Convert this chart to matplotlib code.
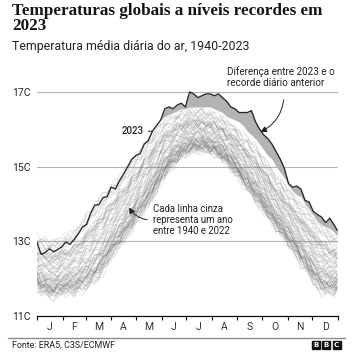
import matplotlib
matplotlib.use("Agg")
import matplotlib.pyplot as plt
from matplotlib.patches import Rectangle
import numpy as np

W, H = 363, 356

# dia do ano (a cada 5 dias)
days = list(range(0, 361, 5)) + [364]

# 2023
t2023 = [12.97, 12.65, 12.70, 12.80, 12.72, 12.78, 12.85, 12.98, 12.92, 13.05,
         13.20, 13.38, 13.45, 13.75, 13.97, 13.98, 14.17, 14.20, 14.45, 14.40,
         14.62, 14.80, 15.00, 15.20, 15.30, 15.35, 15.60, 15.70, 15.95, 16.10,
         16.25, 16.55, 16.60, 16.55, 16.65, 16.70, 16.60, 17.00, 16.95, 16.85,
         16.90, 16.95, 16.95, 16.90, 16.95, 16.85, 16.75, 16.60, 16.55, 16.45,
         16.45, 16.45, 16.50, 16.20, 16.00, 15.85, 15.75, 15.60, 15.40, 15.20,
         14.95, 14.55, 14.45, 14.48, 14.40, 14.10, 14.05, 13.80, 13.72, 13.65,
         13.50, 13.62, 13.45, 13.30]

# recorde diario anterior (a partir de junho)
rec_start = 30
record = [16.25, 16.35, 16.40, 16.45, 16.50, 16.55, 16.55, 16.60, 16.60, 16.60,
          16.60, 16.60, 16.60, 16.55, 16.50, 16.45, 16.35, 16.30, 16.25, 16.20,
          16.10, 15.95, 15.85, 15.75, 15.60, 15.45, 15.30, 15.20, 15.00, 14.85,
          14.70, 14.50, 14.35, 14.25, 14.20, 14.00, 13.85, 13.70, 13.55, 13.45,
          13.40, 13.35, 13.25, 13.15]

# faixa das linhas cinza 1940-2022: limite inferior / superior
low = [11.65, 11.55, 11.50, 11.45, 11.42, 11.45, 11.50, 11.52, 11.52, 11.52,
       11.55, 11.60, 11.65, 11.70, 11.80, 11.90, 12.05, 12.25, 12.45, 12.60,
       12.75, 12.90, 13.05, 13.20, 13.40, 13.55, 13.70, 13.85, 14.05, 14.25,
       14.45, 14.65, 14.80, 14.95, 15.05, 15.15, 15.25, 15.30, 15.35, 15.35,
       15.35, 15.35, 15.30, 15.25, 15.20, 15.10, 15.00, 14.90, 14.75, 14.60,
       14.45, 14.30, 14.15, 14.00, 13.85, 13.70, 13.55, 13.40, 13.25, 13.10,
       12.95, 12.80, 12.65, 12.50, 12.30, 12.15, 12.00, 11.80, 11.65, 11.55,
       11.50, 11.50, 11.52, 11.55]
high = [13.15, 13.10, 13.10, 13.05, 13.05, 13.10, 13.15, 13.20, 13.25, 13.30,
        13.45, 13.60, 13.75, 13.90, 14.05, 14.20, 14.30, 14.45, 14.55, 14.65,
        14.80, 14.90, 15.05, 15.20, 15.35, 15.50, 15.65, 15.80, 15.95, 16.10,
        16.20, 16.30, 16.35, 16.40, 16.45, 16.50, 16.50, 16.55, 16.55, 16.55,
        16.55, 16.50, 16.50, 16.45, 16.40, 16.35, 16.25, 16.20, 16.10, 16.00,
        15.90, 15.80, 15.70, 15.60, 15.45, 15.30, 15.10, 14.95, 14.80, 14.70,
        14.55, 14.45, 14.30, 14.20, 14.05, 13.95, 13.85, 13.70, 13.60, 13.50,
        13.40, 13.30, 13.20, 13.15]
# variacao diaria aproximada
wiggle = [0.05, -0.08, 0.10, -0.02, 0.07, -0.11, 0.03, 0.09, -0.06, 0.00,
          0.12, -0.04, -0.10, 0.06, 0.02, -0.07, 0.11, -0.03, 0.04, -0.09,
          0.08, -0.01, -0.12, 0.05, 0.10, -0.05, 0.01, -0.08, 0.09, 0.03,
          -0.06, 0.12, -0.10, 0.02, 0.07, -0.04, -0.09, 0.11, 0.00, -0.03,
          0.06, -0.11, 0.08, 0.04, -0.07, 0.10, -0.02, -0.06, 0.09, 0.01,
          -0.10, 0.05, 0.12, -0.08, 0.03, -0.05, 0.07, -0.12, 0.02, 0.10,
          -0.04, 0.06, -0.09, 0.00, 0.11, -0.07, 0.04, -0.01, 0.08, -0.10,
          0.03, 0.09, -0.05, 0.02]

years = list(range(1940, 2023))
# posicao relativa de cada ano dentro da faixa (0 = mais frio, 1 = mais quente)
year_level = [0.30, 0.32, 0.28, 0.30, 0.33, 0.28, 0.20, 0.20, 0.20, 0.17,
              0.08, 0.15, 0.18, 0.22, 0.10, 0.07, 0.03, 0.17, 0.22, 0.18,
              0.15, 0.20, 0.18, 0.20, 0.05, 0.08, 0.13, 0.14, 0.12, 0.20,
              0.20, 0.12, 0.20, 0.28, 0.12, 0.15, 0.08, 0.27, 0.25, 0.32,
              0.36, 0.40, 0.30, 0.42, 0.33, 0.33, 0.36, 0.47, 0.50, 0.43,
              0.54, 0.50, 0.40, 0.43, 0.50, 0.57, 0.50, 0.60, 0.72, 0.57,
              0.57, 0.64, 0.68, 0.68, 0.65, 0.72, 0.68, 0.68, 0.62, 0.72,
              0.76, 0.68, 0.72, 0.73, 0.76, 0.86, 0.97, 0.92, 0.86, 0.93,
              0.96, 0.86, 0.86]

month_edges = [0, 31, 59, 90, 120, 151, 181, 212, 243, 273, 304, 334, 365]
month_labels = ["J", "F", "M", "A", "M", "J", "J", "A", "S", "O", "N", "D"]
yticks = [11, 13, 15, 17]
ylabels = ["11C", "13C", "15C", "17C"]

sans = "Roboto"

fig = plt.figure(figsize=(W / 100, H / 100), dpi=100)
renderer = fig.canvas.get_renderer()


def fit(txt, target_px):
    # ajusta o tamanho da fonte para a largura vista na imagem
    w = txt.get_window_extent(renderer).width
    txt.set_fontsize(txt.get_fontsize() * target_px / w)


ax = fig.add_axes([37 / W, 40 / H, 301 / W, (316 - 58.4) / H])
ax.set_xlim(0, 365)
ax.set_ylim(11, 17.9)

x = np.array(days)
lo = np.array(low)
hi = np.array(high)
wg = np.array(wiggle)
for i, lev in enumerate(year_level):
    yy = lo + lev * (hi - lo) + np.roll(wg, i * 11)
    ax.plot(x, yy, color="#6e6e6e", lw=0.45, alpha=0.22, zorder=2)

t = np.array(t2023)
r = np.array(record)
xr = x[rec_start:]
ax.fill_between(xr, r, t[rec_start:], where=t[rec_start:] >= r, interpolate=True,
                color="#b3b3b3", lw=0, zorder=3)
ax.plot(x, t, color="#262626", lw=0.95, zorder=4)

# eixos
for s in ["top", "right", "left"]:
    ax.spines[s].set_visible(False)
ax.spines["bottom"].set_color("#111111")
ax.spines["bottom"].set_linewidth(0.9)
ax.set_yticks(yticks, ylabels)
ax.tick_params(axis="y", length=0, pad=18, labelsize=7.5, labelcolor="#222222")
for lab in ax.get_yticklabels():
    lab.set_horizontalalignment("left")
    lab.set_fontfamily(sans)
ax.grid(axis="y", color="#b5b5b5", lw=0.8)
ax.set_axisbelow(True)

mids = [(month_edges[k] + month_edges[k + 1]) / 2 for k in range(12)]
ax.set_xticks(month_edges, [""] * len(month_edges))
ax.set_xticks(mids, month_labels, minor=True)
ax.tick_params(axis="x", which="major", direction="out", length=3, width=0.8, color="#111111")
ax.tick_params(axis="x", which="minor", length=0, pad=4, labelsize=7.5, labelcolor="#333333")
for lab in ax.get_xticklabels(minor=True):
    lab.set_fontfamily(sans)

# anotacoes
ax.annotate("2023", xy=(140, 15.95), xytext=(-6, 0), textcoords="offset points",
            ha="right", va="center", fontsize=7, fontweight="medium", family=sans,
            color="#222222", arrowprops=dict(arrowstyle="-", color="#222222", lw=0.7,
                                             shrinkA=1, shrinkB=0))
t_cada = fig.text(153 / W, 1 - 204 / H, "Cada linha cinza\nrepresenta um ano\nentre 1940 e 2022",
                  ha="left", va="top", fontsize=7, family=sans, color="#222222", linespacing=1.1)
fit(t_cada, 80)
ax.annotate("", xy=(128, H - 205), xycoords="figure pixels",
            xytext=(150, H - 220), textcoords="figure pixels",
            arrowprops=dict(arrowstyle="-|>,head_length=0.35,head_width=0.18",
                            color="#222222", lw=0.7, connectionstyle="arc3,rad=-0.3"))
t_dif = fig.text(227 / W, 1 - 66 / H, "Diferença entre 2023 e o\nrecorde diário anterior",
                 ha="left", va="top", fontsize=7, family=sans, color="#222222", linespacing=1.1)
fit(t_dif, 108)
ax.annotate("", xy=(258, H - 133), xycoords="figure pixels",
            xytext=(284, H - 97), textcoords="figure pixels",
            arrowprops=dict(arrowstyle="-|>,head_length=0.35,head_width=0.18",
                            color="#222222", lw=0.7, connectionstyle="arc3,rad=-0.3"))

# titulos
t_title = fig.text(12 / W, 1 - 3 / H, "Temperaturas globais a níveis recordes em\n2023",
                   ha="left", va="top", fontsize=12, fontweight="bold",
                   family="Liberation Serif", color="#141414", linespacing=0.95)
fit(t_title, 308)
t_sub = fig.text(12 / W, 1 - 40 / H, "Temperatura média diária do ar, 1940-2023",
                 ha="left", va="top", fontsize=8.5, family=sans, color="#222222")
fit(t_sub, 235)

# rodape
fig.add_artist(plt.Line2D([8 / W, 345 / W], [1 - 338 / H, 1 - 338 / H],
                          color="#8c8c8c", lw=1.0, transform=fig.transFigure))
t_src = fig.text(12 / W, 1 - 345.5 / H, "Fonte: ERA5, C3S/ECMWF", ha="left", va="center",
                 fontsize=6.3, family=sans, color="#222222")
fit(t_src, 103)
for k, letter in enumerate("BBC"):
    x0 = 311.5 + k * 10.5
    fig.add_artist(Rectangle((x0 / W, 1 - 349 / H), 8 / W, 8 / H,
                             transform=fig.transFigure, color="#111111"))
    fig.text((x0 + 4) / W, 1 - 345 / H, letter, ha="center", va="center",
             fontsize=5, fontweight="bold", family="DejaVu Sans", color="white")

fig.savefig("out.png", dpi=100, facecolor="white")
